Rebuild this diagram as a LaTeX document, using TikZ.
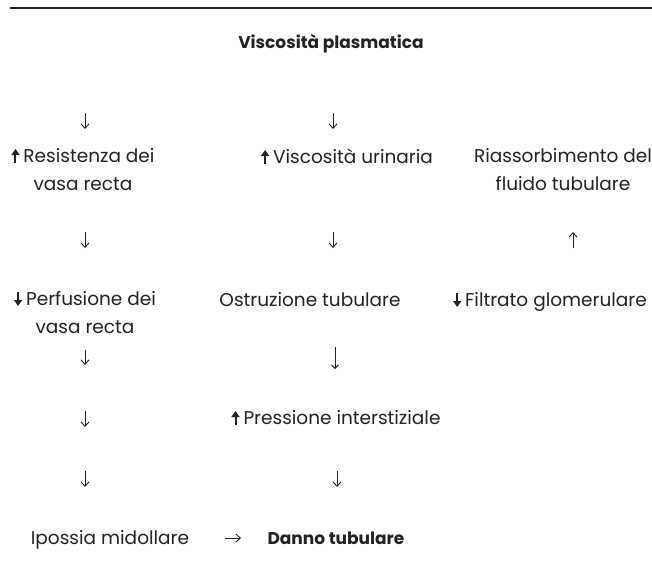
\documentclass[tikz,border=0pt]{standalone}
\usepackage{fontspec}
\setmainfont{Poppins}
\usetikzlibrary{arrows.meta}
\definecolor{ink}{HTML}{222222}
\newcommand\bup{\tikz[baseline=0pt]\draw[ink,line width=2pt,-{Triangle[length=6pt,width=8pt]}] (0pt,-1pt) -- (0pt,13pt);\hspace{4pt}}
\newcommand\bdown{\tikz[baseline=0pt]\draw[ink,line width=2pt,-{Triangle[length=6pt,width=8pt]}] (0pt,13pt) -- (0pt,-1pt);\hspace{4pt}}
\tikzset{
  txt/.style={inner sep=0pt, text=ink, font=\fontsize{18.5}{28}\selectfont, align=center},
  bold/.style={font=\fontsize{17}{28}\selectfont\bfseries},
  thinarr/.style={draw=ink, line width=0.9pt, -{Straight Barb[length=4.5pt,width=8pt]}},
  longarr/.style={draw=ink, line width=0.9pt, -{Straight Barb[length=3.5pt,width=7pt]}},
}
\begin{document}
\begin{tikzpicture}[x=1pt,y=-1pt]
\useasboundingbox (0,0) rectangle (652,562);
\fill[white] (0,0) rectangle (652,562);
% top rule
\coordinate (r1) at (10,8);
\coordinate (r2) at (652,8);
\draw[ink,line width=1.8pt] (r1) -- (r2);

\node[txt,bold,anchor=base] (visc) at (331,48) {Viscosità plasmatica};

% row A arrows
\coordinate (a1s) at (85,113); \coordinate (a1e) at (85,129);
\coordinate (a2s) at (333,113); \coordinate (a2e) at (333,129);
\draw[thinarr] (a1s) -- (a1e);
\draw[thinarr] (a2s) -- (a2e);

% row B (anchor base = last line)
\node[txt,anchor=base] (res) at (83,190) {\bup Resistenza dei\\vasa recta};
\node[txt,anchor=base] (vu) at (347,163) {\bup Viscosità urinaria};
\node[txt,anchor=base] (ria) at (563,190) {Riassorbimento del\\fluido tubulare};

% row C arrows
\coordinate (c1s) at (85,232); \coordinate (c1e) at (85,248);
\coordinate (c2s) at (333,232); \coordinate (c2e) at (333,248);
\coordinate (c3s) at (573,248); \coordinate (c3e) at (573,232);
\draw[thinarr] (c1s) -- (c1e);
\draw[thinarr] (c2s) -- (c2e);
\draw[thinarr] (c3s) -- (c3e);

% row D
\node[txt,anchor=base] (perf) at (85,333) {\bdown Perfusione dei\\vasa recta};
\node[txt,anchor=base] (ost) at (310,306) {Ostruzione tubulare};
\node[txt,anchor=base] (fil) at (550,306) {\bdown Filtrato glomerulare};

% row E arrows
\coordinate (e1s) at (85,350); \coordinate (e1e) at (85,365);
\coordinate (e2s) at (335,347); \coordinate (e2e) at (335,369);
\draw[thinarr] (e1s) -- (e1e);
\draw[longarr] (e2s) -- (e2e);

% row F
\coordinate (f1s) at (85,411); \coordinate (f1e) at (85,427);
\draw[thinarr] (f1s) -- (f1e);
\node[txt,anchor=base] (pres) at (336,424) {\bup Pressione interstiziale};

% row G arrows
\coordinate (g1s) at (85,471); \coordinate (g1e) at (85,487);
\coordinate (g2s) at (337,471); \coordinate (g2e) at (337,487);
\draw[thinarr] (g1s) -- (g1e);
\draw[thinarr] (g2s) -- (g2e);

% row H
\node[txt,anchor=base] (ipo) at (110,544) {Ipossia midollare};
\node[txt,bold,anchor=base] (dan) at (336,544) {Danno tubulare};
\coordinate (h1) at (225,538); \coordinate (h2) at (241,538);
\draw[thinarr] (h1) -- (h2);
\end{tikzpicture}
\end{document}
